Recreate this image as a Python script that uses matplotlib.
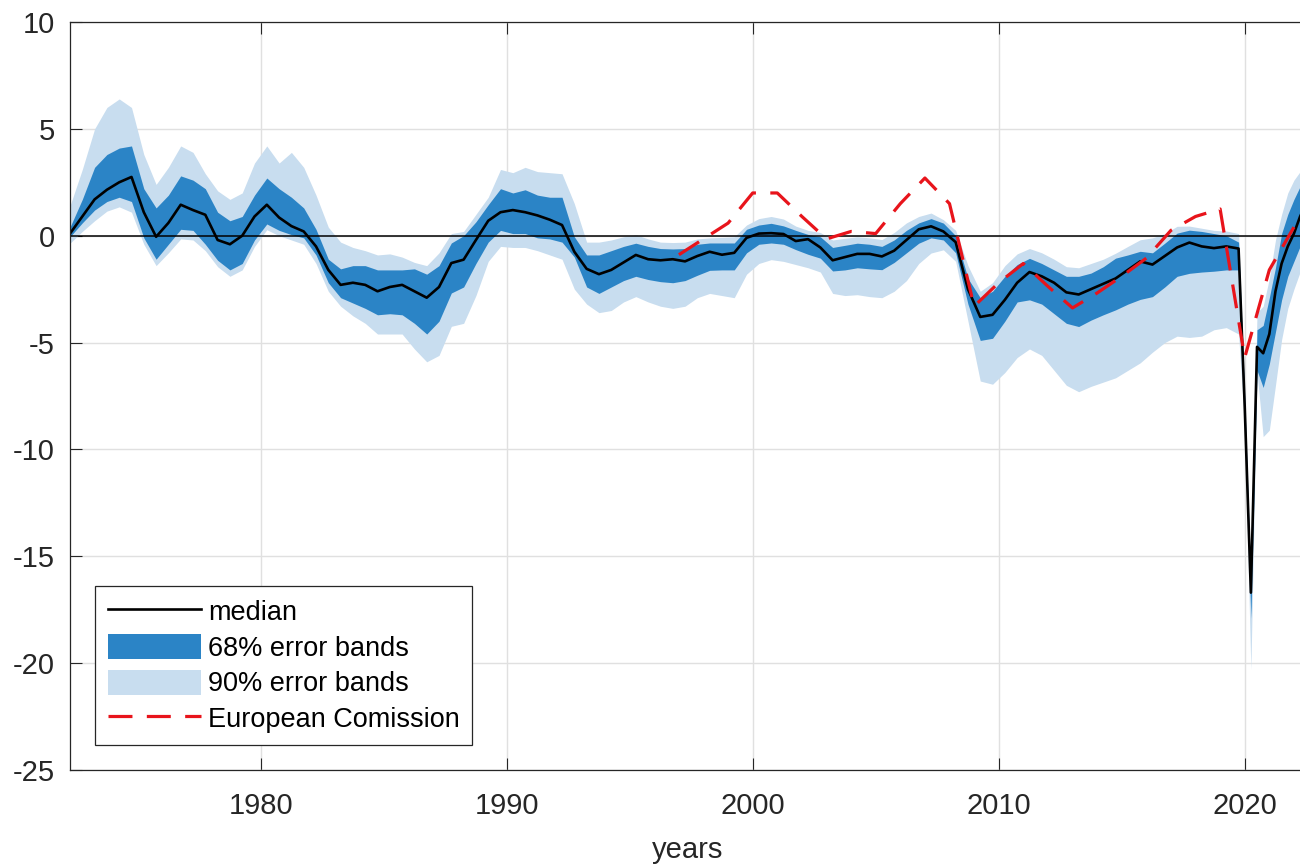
import numpy as np
import matplotlib
matplotlib.use("Agg")
import matplotlib.pyplot as plt
from matplotlib.patches import Patch
from matplotlib.lines import Line2D

plt.rcParams['font.family'] = ['Liberation Sans', 'DejaVu Sans']
plt.rcParams['axes.unicode_minus'] = False

# half-year grid up to 2019.75, quarterly afterwards (covid quarters)
years = np.concatenate([np.arange(1972.25, 2019.76, 0.5), np.arange(2020.0, 2022.51, 0.25)])

median = [
    0.1, 0.9, 1.7, 2.15, 2.5, 2.75, 1.1, -0.05, 0.6, 1.45, 1.2, 0.98, -0.2, -0.4, 0.0, 0.9,
    1.45, 0.85, 0.45, 0.2, -0.5, -1.6, -2.3, -2.2, -2.3, -2.6, -2.4, -2.3, -2.6, -2.9, -2.4, -1.28, -1.12, -0.2, 0.7, 1.1,
    1.2, 1.1, 0.95, 0.75, 0.5, -0.75, -1.55, -1.8, -1.6, -1.25, -0.9, -1.1, -1.15, -1.1, -1.2, -0.95, -0.75, -0.89, -0.8, -0.1,
    0.1, 0.12, 0.08, -0.25, -0.16, -0.55, -1.15, -1.0, -0.85, -0.85, -0.97, -0.7, -0.2, 0.3, 0.44, 0.2, -0.3, -2.5, -3.8, -3.7,
    -3.0, -2.2, -1.7, -1.9, -2.2, -2.65, -2.75, -2.5, -2.25, -2.0, -1.6, -1.2, -1.35, -0.95, -0.55, -0.32, -0.5, -0.58, -0.5, -0.6,
    -8.0, -16.7, -5.2, -5.5, -4.6, -2.6, -1.3, -0.5, 0.1, 0.9, 1.5]

up68 = [
    0.4, 1.7, 3.2, 3.8, 4.1, 4.2, 2.2, 1.3, 1.9, 2.8, 2.6, 2.2, 1.1, 0.7, 0.9, 1.9,
    2.7, 2.2, 1.8, 1.3, 0.3, -1.1, -1.55, -1.4, -1.4, -1.6, -1.6, -1.6, -1.55, -1.8, -1.4, -0.34, 0.0, 0.65, 1.45, 2.2,
    2.0, 2.15, 1.9, 1.8, 1.8, -0.05, -0.9, -0.9, -0.7, -0.5, -0.35, -0.5, -0.6, -0.62, -0.6, -0.4, -0.34, -0.34, -0.34, 0.3,
    0.5, 0.58, 0.46, 0.25, 0.06, -0.05, -0.55, -0.45, -0.35, -0.4, -0.5, -0.2, 0.25, 0.6, 0.8, 0.59, 0.0, -2.0, -2.9, -2.6,
    -1.9, -1.35, -1.06, -1.3, -1.6, -1.9, -1.9, -1.75, -1.45, -1.05, -0.9, -0.73, -0.8, -0.35, 0.12, 0.26, 0.2, 0.1, 0.0, -0.3,
    -7.6, -16.3, -4.4, -4.2, -2.9, -1.5, 0.1, 1.0, 1.7, 2.3, 2.7]

lo68 = [
    -0.05, 0.6, 1.2, 1.6, 1.8, 1.6, -0.1, -1.1, -0.4, 0.3, 0.25, -0.4, -1.15, -1.6, -1.3, -0.2,
    0.55, 0.25, 0.05, -0.1, -0.9, -2.2, -2.9, -3.15, -3.4, -3.7, -3.65, -3.7, -4.1, -4.6, -4.0, -2.68, -2.4, -1.3, -0.3, 0.25,
    0.1, 0.1, -0.1, -0.15, -0.3, -1.0, -2.4, -2.7, -2.4, -2.1, -1.9, -2.05, -2.15, -2.2, -2.1, -1.85, -1.62, -1.6, -1.6, -0.8,
    -0.4, -0.34, -0.4, -0.65, -0.87, -1.05, -1.65, -1.6, -1.5, -1.55, -1.59, -1.25, -0.8, -0.35, -0.1, -0.2, -0.8, -3.2, -4.9, -4.8,
    -4.0, -3.1, -3.0, -3.2, -3.65, -4.1, -4.25, -3.95, -3.7, -3.47, -3.2, -2.98, -2.85, -2.4, -1.9, -1.76, -1.7, -1.66, -1.6, -1.6,
    -8.6, -17.9, -6.3, -7.1, -6.0, -4.5, -3.0, -1.9, -1.2, -0.5, -0.1]

up90 = [
    1.4, 3.1, 5.0, 6.0, 6.4, 6.0, 3.8, 2.4, 3.2, 4.2, 3.9, 2.9, 2.1, 1.7, 2.0, 3.4,
    4.2, 3.4, 3.9, 3.2, 1.9, 0.4, -0.3, -0.55, -0.7, -0.9, -0.85, -1.0, -1.25, -1.4, -0.8, 0.1, 0.2, 1.0, 1.8, 3.1,
    2.95, 3.2, 3.0, 2.95, 2.9, 1.5, -0.3, -0.3, -0.2, -0.05, 0.05, -0.15, -0.3, -0.32, -0.3, -0.15, -0.1, -0.08, -0.05, 0.5,
    0.8, 0.9, 0.78, 0.45, 0.25, 0.15, -0.2, -0.12, -0.05, -0.1, -0.18, 0.15, 0.6, 0.9, 1.06, 0.75, 0.25, -1.4, -2.6, -2.2,
    -1.4, -0.85, -0.6, -0.8, -1.1, -1.45, -1.5, -1.3, -1.1, -0.82, -0.5, -0.19, -0.1, 0.1, 0.44, 0.45, 0.35, 0.25, 0.22, 0.1,
    -7.3, -16.0, -3.6, -3.3, -2.0, -0.2, 1.0, 2.0, 2.6, 3.0, 3.3]

lo90 = [
    -0.35, 0.2, 0.7, 1.15, 1.35, 1.1, -0.4, -1.4, -0.8, -0.15, -0.2, -0.7, -1.45, -1.9, -1.6, -0.5,
    0.28, 0.0, -0.2, -0.4, -1.3, -2.6, -3.3, -3.75, -4.1, -4.6, -4.6, -4.6, -5.3, -5.9, -5.6, -4.24, -4.1, -2.8, -1.2, -0.5,
    -0.55, -0.55, -0.7, -0.9, -1.1, -2.5, -3.2, -3.6, -3.5, -3.1, -2.85, -3.1, -3.3, -3.4, -3.3, -2.9, -2.7, -2.8, -2.9, -1.8,
    -1.3, -1.12, -1.2, -1.35, -1.5, -1.7, -2.7, -2.8, -2.76, -2.85, -2.9, -2.6, -2.1, -1.3, -0.81, -0.66, -1.2, -4.0, -6.8, -6.95,
    -6.4, -5.7, -5.3, -5.6, -6.3, -7.0, -7.3, -7.05, -6.85, -6.65, -6.3, -5.95, -5.45, -5.0, -4.7, -4.76, -4.7, -4.4, -4.3, -4.6,
    -9.0, -20.3, -6.4, -9.4, -9.1, -7.0, -4.86, -3.4, -2.5, -1.7, -1.3]

# European Commission annual estimates
ec_years = np.arange(1997, 2023)
ec = [-0.89, -0.15, 0.59, 2.0, 2.0, 0.9, -0.15, 0.2, 0.1, 1.5, 2.7, 1.5, -3.3, -2.2, -1.3,
      -2.37, -3.38, -2.68, -1.9, -1.05, 0.25, 0.9, 1.25, -5.7, -1.6, 0.4]

dark = '#2b84c6'
light = '#c8ddef'

fig = plt.figure(figsize=(13, 8.68), dpi=100)
ax = fig.add_axes([70/1300, 1 - 770/868, 1235/1300, 748/868])

ax.fill_between(years, lo90, up90, color=light, lw=0)
ax.fill_between(years, lo68, up68, color=dark, lw=0)
ax.axhline(0, color='black', lw=1.1)
ax.plot(years, median, color='black', lw=1.9)
ax.plot(ec_years, ec, color='#e8141b', lw=2.3, dashes=(7.5, 4.5))

ax.set_xlim(1972.25, 2022.45)
ax.set_ylim(-25, 10)
ax.set_xticks([1980, 1990, 2000, 2010, 2020])
ax.set_yticks(np.arange(-25, 11, 5))
ax.grid(True, color='#e0e0e0', lw=1)
ax.set_axisbelow(True)
ax.tick_params(direction='in', length=8.5, width=0.8, labelsize=21, colors='#262626',
               top=True, right=False)
ax.tick_params(axis='x', pad=16)
ax.tick_params(axis='y', pad=11)
for s in ['left', 'bottom', 'top']:
    ax.spines[s].set_color('#262626')
    ax.spines[s].set_linewidth(0.9)
ax.spines['right'].set_visible(False)
ax.set_xlabel('years', fontsize=21, color='#262626', labelpad=11)

handles = [Line2D([], [], color='black', lw=1.9),
           Patch(facecolor=dark, edgecolor='none'),
           Patch(facecolor=light, edgecolor='none'),
           Line2D([], [], color='#e8141b', lw=2.3, dashes=(7.5, 4.5))]
labels = ['median', '68% error bands', '90% error bands', 'European Comission']
leg = ax.legend(handles, labels, loc='lower left', bbox_to_anchor=(0.0205, 0.033),
                borderaxespad=0, fontsize=19.5, handlelength=3.45, handleheight=1.05,
                labelspacing=0.29, handletextpad=0.26, borderpad=0.45,
                fancybox=False, framealpha=1, edgecolor='#262626')
leg.get_frame().set_linewidth(0.9)

plt.savefig('out.png', dpi=100)
